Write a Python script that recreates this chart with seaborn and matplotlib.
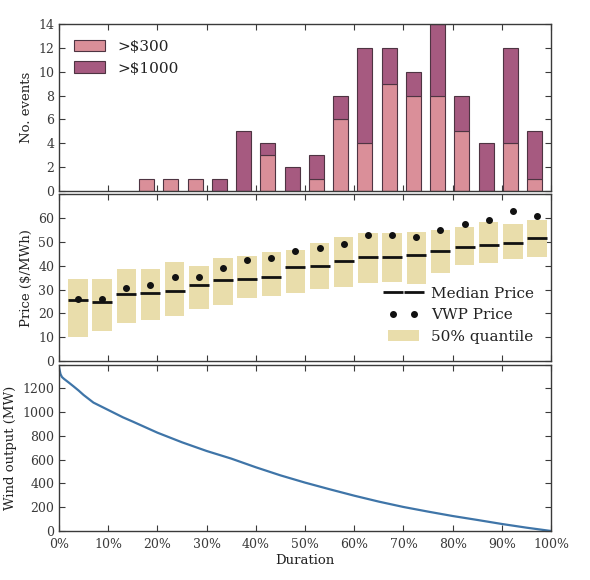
import numpy as np
import matplotlib
matplotlib.use("Agg")
import matplotlib.pyplot as plt
from matplotlib.ticker import FuncFormatter
import seaborn as sns

# ── Data ──────────────────────────────────────────────────────────────────────
# 20 duration bins (5% each)
n_bins = 20
events_300  = [0, 0, 0, 1, 1, 1, 0, 0, 3, 0, 1, 6, 4, 9, 8, 8, 5, 0, 4, 1]
events_1000 = [0, 0, 0, 0, 0, 0, 1, 5, 1, 2, 2, 2, 8, 3, 2, 6, 3, 4, 8, 4]

median_price = [25.6, 24.9, 28.0, 28.7, 29.5, 31.8, 33.9, 34.3, 35.3, 39.3,
                40.0, 42.2, 43.8, 43.8, 44.4, 46.2, 47.8, 48.8, 49.5, 51.8]
vwp_price    = [26.0, 26.1, 30.6, 32.0, 35.1, 35.4, 39.1, 42.3, 43.1, 46.2,
                47.5, 49.3, 53.1, 53.0, 52.1, 54.9, 57.5, 59.4, 63.2, 61.0]
q25_price    = [10.1, 12.5, 15.9, 17.3, 19.0, 21.8, 23.6, 26.3, 27.3, 28.7,
                30.2, 31.1, 32.7, 33.2, 32.2, 37.1, 40.2, 41.2, 42.9, 43.8]
q75_price    = [34.3, 34.3, 38.8, 38.8, 41.6, 40.0, 43.3, 44.3, 45.8, 46.5,
                49.5, 52.0, 53.8, 53.8, 54.1, 55.1, 56.3, 58.3, 57.5, 59.4]

duration = [0.0, 0.003, 0.006, 0.01, 0.02, 0.03, 0.04, 0.05, 0.07, 0.10,
            0.13, 0.15, 0.20, 0.25, 0.30, 0.35, 0.40, 0.45, 0.50, 0.55,
            0.60, 0.65, 0.70, 0.75, 0.80, 0.85, 0.90, 0.95, 1.0]
wind_mw  = [1377, 1320, 1295, 1280, 1248, 1215, 1181, 1144, 1080, 1018,
            956, 920, 827, 746, 673, 609, 536, 468, 407, 351,
            297, 247, 202, 163, 126, 93, 59, 28, 0]

# ── Style ─────────────────────────────────────────────────────────────────────
sns.set_style("ticks")
plt.rcParams.update({
    "font.family": ["DejaVu Serif"],
    "xtick.direction": "in", "ytick.direction": "in",
    "xtick.top": True, "ytick.right": True,
    "xtick.major.size": 4, "ytick.major.size": 4,
    "xtick.major.pad": 5,
    "xtick.labelsize": 9, "ytick.labelsize": 9,
    "axes.labelsize": 9.5,
    "axes.edgecolor": "#3a3a3a", "axes.linewidth": 1.0,
    "xtick.color": "#3a3a3a", "ytick.color": "#3a3a3a",
    "text.color": "#222222", "axes.labelcolor": "#222222",
})

PINK   = "#da8f99"
PURPLE = "#a65a80"
EDGE   = "#4e3442"
BOX    = "#e9ddab"
LINE   = "#3f75a8"

bar_x = 0.030 + 0.0493 * np.arange(n_bins)
box_x = 0.0386 + 0.0491 * np.arange(n_bins)

fig, (ax1, ax2, ax3) = plt.subplots(3, 1, figsize=(5.9, 5.8), sharex=True)
fig.subplots_adjust(left=0.1, right=0.934, bottom=0.0845, top=0.958, hspace=0.022)

# ── Events ────────────────────────────────────────────────────────────────────
ev300 = np.array(events_300)
ev1000 = np.array(events_1000)
m300 = ev300 > 0
m1000 = ev1000 > 0
ax1.bar(bar_x[m300], ev300[m300], width=0.0305, color=PINK, edgecolor=EDGE,
        linewidth=0.8, label=">$300")
ax1.bar(bar_x[m1000], ev1000[m1000], bottom=ev300[m1000], width=0.0305,
        color=PURPLE, edgecolor=EDGE, linewidth=0.8, label=">$1000")
ax1.set_ylim(0, 14)
ax1.set_yticks(range(0, 15, 2))
ax1.set_ylabel("No. events")
ax1.legend(loc="upper left", frameon=False, fontsize=11, handlelength=2.0,
           handleheight=0.8, borderaxespad=0.6)

# ── Price ─────────────────────────────────────────────────────────────────────
q25 = np.array(q25_price)
q75 = np.array(q75_price)
ax2.bar(box_x, q75 - q25, bottom=q25, width=0.0395, color=BOX,
        linewidth=0, label="50% quantile")
ax2.plot(box_x, median_price, ls="none", marker="_", ms=14, mew=2.0,
         color="#111111", label="Median Price")
ax2.plot(box_x, vwp_price, ls="none", marker="o", ms=4, color="#111111",
         label="VWP Price")
ax2.set_ylim(0, 70)
ax2.set_yticks(range(0, 71, 10))
ax2.set_yticklabels([str(v) for v in range(0, 61, 10)] + [""])
ax2.set_ylabel("Price ($/MWh)")
ax2.legend(loc="lower right", frameon=False, fontsize=11, numpoints=2,
           borderaxespad=0.7)

# ── Wind duration curve ───────────────────────────────────────────────────────
sns.lineplot(x=duration, y=wind_mw, ax=ax3, color=LINE, linewidth=1.6)
ax3.set_ylim(0, 1400)
ax3.set_yticks(range(0, 1401, 200))
ax3.set_yticklabels([str(v) for v in range(0, 1201, 200)] + [""])
ax3.set_ylabel("Wind output (MW)")
ax3.set_xlim(0, 1)
ax3.set_xticks(np.linspace(0, 1, 11))
ax3.xaxis.set_major_formatter(FuncFormatter(lambda v, p: f"{v * 100:.0f}%"))
ax3.set_xlabel("Duration", labelpad=2)

for ax in (ax1, ax2):
    ax.tick_params(labelbottom=False)

plt.savefig("out.png", dpi=100)
